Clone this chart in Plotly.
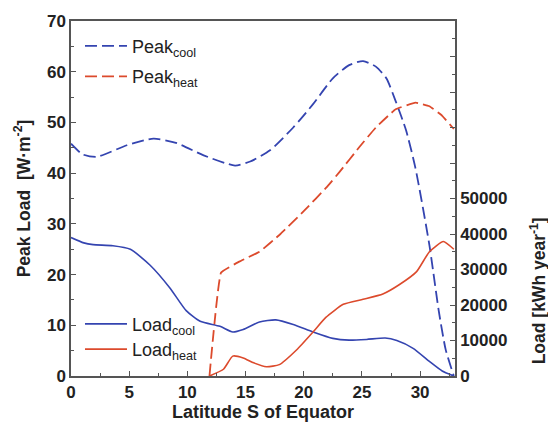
import plotly.graph_objects as go

# ---- data ----
lat_peak_cool = [0, 1.0, 2.2, 4.8, 7.1, 9.1, 11.4, 14.1, 15.4, 17.1, 19.1, 20.8, 22.5, 23.9, 25.1, 26.2, 27.1, 27.9, 28.8, 29.6, 30.8, 31.6, 32.2, 32.9]
peak_cool = [45.8, 43.7, 43.2, 45.5, 46.8, 45.9, 43.5, 41.5, 42.3, 44.5, 49.0, 53.6, 58.7, 61.3, 62.1, 61.0, 58.7, 54.2, 48.4, 41.0, 25.8, 12.9, 5.2, 0.0]

lat_peak_heat = [11.9, 12.9, 14.5, 16.2, 18.0, 20.0, 22.0, 23.1, 24.8, 26.2, 27.9, 29.6, 30.8, 31.9, 32.9]
peak_heat = [0.0, 20.4, 22.6, 24.5, 28.0, 32.5, 37.3, 40.3, 45.2, 49.0, 52.6, 53.9, 53.2, 51.3, 48.7]

lat_load_cool = [0, 1.1, 1.9, 3.6, 5.1, 6.8, 8.5, 9.9, 11.1, 12.8, 13.9, 14.8, 16.2, 17.6, 19.1, 20.8, 22.5, 23.9, 25.4, 27.0, 28.0, 29.4, 30.8, 31.9, 32.9]
load_cool = [39000, 37500, 37000, 36700, 35700, 31200, 24800, 18400, 15400, 14000, 12400, 13100, 15200, 15800, 14500, 12400, 10600, 10100, 10300, 10700, 10000, 7800, 4100, 1400, 0]

lat_load_heat = [11.9, 13.1, 13.9, 14.8, 15.7, 16.8, 17.9, 19.4, 20.8, 21.9, 23.4, 25.1, 26.8, 28.2, 29.7, 30.8, 32.0, 32.9]
load_heat = [0, 1900, 5600, 5100, 3700, 2600, 3200, 7400, 12400, 16500, 20200, 21600, 23100, 25700, 29400, 35000, 37900, 35700]

left_ticks = [0, 10, 20, 30, 40, 50, 60, 70]
x_ticks = [0, 5, 10, 15, 20, 25, 30]
right_ticks = [0, 10000, 20000, 30000, 40000, 50000, 60000, 70000, 80000, 90000, 100000]
right_labels = ["0", "10000", "20000", "30000", "40000", "50000", "", "", "", "", ""]

BLUE = "#3444b0"
RED = "#dc4a2c"
AX = "#555555"
FONT = "Liberation Sans, Arial, sans-serif"

fig = go.Figure()
fig.add_trace(go.Scatter(x=lat_peak_cool, y=peak_cool, mode="lines", name="Peak<sub>cool</sub>",
                         line=dict(color=BLUE, width=1.8, dash="12px,5px", shape="spline", smoothing=0.6),
                         legend="legend", showlegend=True))
fig.add_trace(go.Scatter(x=lat_peak_heat, y=peak_heat, mode="lines", name="Peak<sub>heat</sub>",
                         line=dict(color=RED, width=1.8, dash="12px,5px", shape="spline", smoothing=0.25),
                         legend="legend2", showlegend=True))
fig.add_trace(go.Scatter(x=lat_load_cool, y=load_cool, mode="lines", name="Load<sub>cool</sub>", yaxis="y2",
                         line=dict(color=BLUE, width=1.6, shape="spline", smoothing=0.6),
                         legend="legend3", showlegend=True))
fig.add_trace(go.Scatter(x=lat_load_heat, y=load_heat, mode="lines", name="Load<sub>heat</sub>", yaxis="y2",
                         line=dict(color=RED, width=1.6, shape="spline", smoothing=0.5),
                         legend="legend4", showlegend=True))

tickfont = dict(family=FONT, size=17, color="#222222", weight="bold")
titlefont = dict(family=FONT, size=18, color="#222222", weight="bold")
ytitlefont = dict(family=FONT, size=17.5, color="#222222", weight="bold")
legfont = dict(family=FONT, size=18, color="#222222")

def leg(y):
    return dict(x=0.0234, y=y, xanchor="left", yanchor="middle", bgcolor="rgba(0,0,0,0)",
                font=legfont, itemwidth=42, borderwidth=0)

fig.update_layout(
    width=548, height=431,
    showlegend=True,
    margin=dict(l=71, r=93, t=15, b=54),
    paper_bgcolor="white", plot_bgcolor="white",
    font=dict(family=FONT),
    xaxis=dict(range=[0, 33], tickvals=x_ticks, ticks="inside", ticklen=5, tickwidth=1.2, tickcolor=AX,
               minor=dict(dtick=2.5, tick0=0, ticks="inside", ticklen=3, tickcolor=AX),
               showline=True, linecolor=AX, linewidth=1.5, mirror=True, showgrid=False, zeroline=False,
               tickfont=tickfont, title=dict(text="Latitude S of Equator", font=titlefont, standoff=4)),
    yaxis=dict(range=[0, 70], tickvals=left_ticks, ticks="inside", ticklen=5, tickwidth=1.2, tickcolor=AX,
               minor=dict(dtick=5, tick0=0, ticks="inside", ticklen=3, tickcolor=AX),
               showline=True, linecolor=AX, linewidth=1.5, showgrid=False, zeroline=False,
               tickfont=tickfont, title=dict(text="Peak Load  [W·m<sup>-2</sup>]", font=ytitlefont, standoff=12)),
    yaxis2=dict(range=[0, 100000], overlaying="y", side="right", tickvals=right_ticks, ticktext=right_labels,
                ticks="inside", ticklen=5, tickwidth=1.2, tickcolor=AX,
                minor=dict(dtick=5000, tick0=0, ticks="inside", ticklen=3, tickcolor=AX),
                showline=True, linecolor=AX, linewidth=1.5, showgrid=False, zeroline=False,
                tickfont=tickfont),
    legend=leg(0.929),
    legend2=leg(0.843),
    legend3=leg(0.146),
    legend4=leg(0.075),
    annotations=[dict(text="Load [kWh year<sup>-1</sup>]", xref="paper", yref="paper", x=1.215, y=0.24,
                      textangle=-90, showarrow=False, font=ytitlefont, xanchor="center", yanchor="middle")],
)

fig.write_html("out.html")
